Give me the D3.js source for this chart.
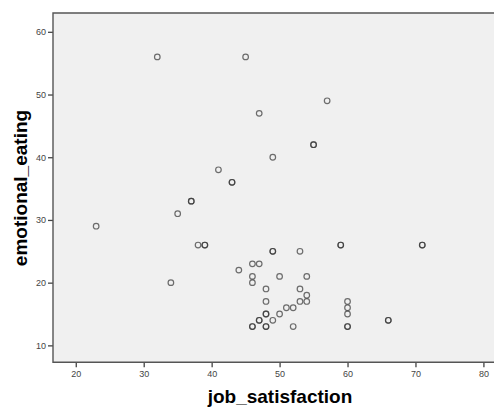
<!DOCTYPE html>
<html>
<head>
<meta charset="utf-8">
<script src="https://cdn.jsdelivr.net/npm/d3@7"></script>
<style>
  body { margin: 0; background: #fff; }
  svg { display: block; font-family: "Liberation Sans", Arial, sans-serif; }
</style>
</head>
<body>
<svg id="chart"></svg>
<script>
// one entry per case; overlapping cases are listed twice so they draw darker
var jobSatisfaction = [32, 45, 47, 57, 55, 55, 49, 41, 43, 43, 37, 37, 35, 23, 38, 39, 39,
  49, 49, 53, 59, 59, 71, 71, 46, 47, 44, 46, 50, 54, 46, 34, 48, 53, 54, 48, 53, 54,
  51, 52, 48, 48, 50, 47, 47, 49, 46, 46, 48, 48, 52, 60, 60, 60, 60, 60, 66, 66];
var emotionalEating = [56, 56, 47, 49, 42, 42, 40, 38, 36, 36, 33, 33, 31, 29, 26, 26, 26,
  25, 25, 25, 26, 26, 26, 26, 23, 23, 22, 21, 21, 21, 20, 20, 19, 19, 18, 17, 17, 17,
  16, 16, 15, 15, 15, 14, 14, 14, 13, 13, 13, 13, 13, 17, 16, 15, 13, 13, 14, 14];
var xTicks = [20, 30, 40, 50, 60, 70, 80];
var yTicks = [10, 20, 30, 40, 50, 60];

var svgWidth = 494, svgHeight = 408;
var margin = { top: 13, left: 53 };
var plotRight = 497, plotBottom = 362.3;

var svg = d3.select('#chart')
  .attr('width', svgWidth)
  .attr('height', svgHeight);

var x = d3.scaleLinear().domain([16.65, 82]).range([margin.left, plotRight]);
var y = d3.scaleLinear().domain([7.3, 63]).range([plotBottom, margin.top]);

// plot background
svg.append('rect')
  .attr('x', margin.left)
  .attr('y', margin.top)
  .attr('width', plotRight - margin.left)
  .attr('height', plotBottom - margin.top)
  .attr('fill', '#f0f0f0');

// x axis
var xAxis = svg.append('g')
  .attr('transform', 'translate(0,' + plotBottom + ')')
  .call(d3.axisBottom(x).tickValues(xTicks).tickSize(5).tickPadding(3));
xAxis.select('.domain').remove();

// y axis
var yAxis = svg.append('g')
  .attr('transform', 'translate(' + margin.left + ',0)')
  .call(d3.axisLeft(y).tickValues(yTicks).tickSize(5).tickPadding(2));
yAxis.select('.domain').remove();

svg.selectAll('.tick line').attr('stroke', '#444').attr('stroke-width', 1.3);
svg.selectAll('.tick text')
  .attr('fill', '#444')
  .style('font-size', '9px')
  .style('font-family', '"Liberation Sans", Arial, sans-serif');

// frame: left, top and bottom edges
svg.append('path')
  .attr('d', 'M' + plotRight + ',' + margin.top + 'H' + margin.left + 'V' + plotBottom + 'H' + plotRight)
  .attr('fill', 'none')
  .attr('stroke', '#555')
  .attr('stroke-width', 1.4);

// points
svg.append('g')
  .selectAll('circle')
  .data(jobSatisfaction)
  .enter().append('circle')
  .attr('cx', function (d) { return x(d); })
  .attr('cy', function (d, i) { return y(emotionalEating[i]); })
  .attr('r', 2.8)
  .attr('fill', 'none')
  .attr('stroke', '#333')
  .attr('stroke-opacity', 0.7)
  .attr('stroke-width', 1.2);

// axis titles
svg.append('text')
  .attr('x', 280)
  .attr('y', 403)
  .attr('text-anchor', 'middle')
  .style('font-size', '19px')
  .style('font-weight', 'bold')
  .attr('fill', '#000')
  .text('job_satisfaction');

svg.append('text')
  .attr('transform', 'translate(27,188) rotate(-90)')
  .attr('text-anchor', 'middle')
  .style('font-size', '19px')
  .style('font-weight', 'bold')
  .attr('fill', '#000')
  .text('emotional_eating');
</script>
</body>
</html>
